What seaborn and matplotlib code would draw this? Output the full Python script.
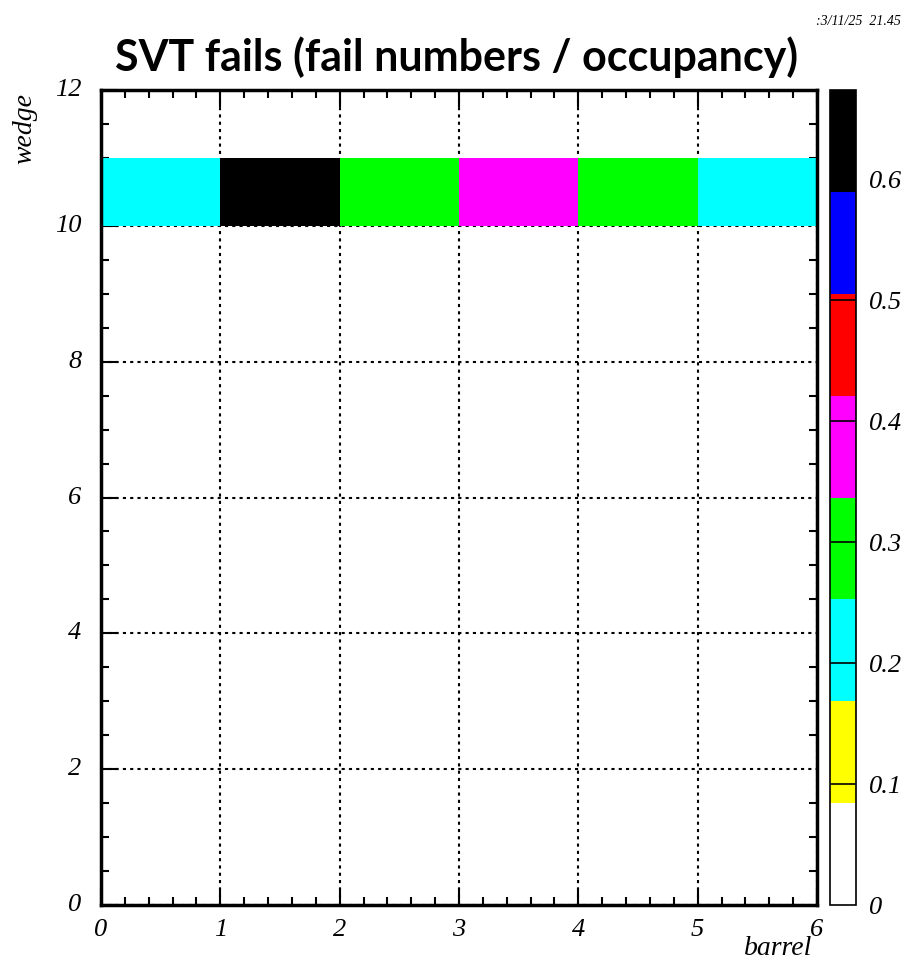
import numpy as np
import pandas as pd
import seaborn as sns
import matplotlib
matplotlib.use('Agg')
from matplotlib import pyplot as plt
from matplotlib.colors import ListedColormap
from matplotlib.ticker import MultipleLocator

sns.set_style('white')
plt.rcParams['text.color'] = 'black'
plt.rcParams['xtick.color'] = 'black'
plt.rcParams['ytick.color'] = 'black'

# histogram content: wedge row 10, barrels 0..5
barrels = [0, 1, 2, 3, 4, 5]
wedges = list(range(12))
row_wedge = 10
row_values = [0.21, 0.674, 0.30, 0.38, 0.30, 0.21]

level_colors = ['white', 'yellow', 'cyan', '#00ff00', 'magenta', 'red', 'blue', 'black']
zmax = max(row_values)

cbar_ticks = [0, 0.1, 0.2, 0.3, 0.4, 0.5, 0.6]
cbar_labels = ['0', '0.1', '0.2', '0.3', '0.4', '0.5', '0.6']
x_ticks = [0, 1, 2, 3, 4, 5, 6]
y_ticks = [0, 2, 4, 6, 8, 10, 12]

grid = np.zeros((len(wedges), len(barrels)))
grid[row_wedge, :] = row_values
df = pd.DataFrame(grid, index=wedges, columns=barrels)

serif = dict(family='Liberation Serif', style='italic', color='black')

fig = plt.figure(figsize=(9.05, 9.63), dpi=100)
ax = fig.add_axes([0.1116, 0.0602, 0.7912, 0.8463])
cax = fig.add_axes([0.9171, 0.0602, 0.0293, 0.8463])

sns.heatmap(df, cmap=ListedColormap(level_colors), vmin=0, vmax=zmax,
            mask=(df == 0), ax=ax, cbar_ax=cax, linewidths=0)

ax.set_ylim(0, 12)
ax.set_xlim(0, 6)
ax.set_axisbelow(True)
ax.xaxis.set_major_locator(MultipleLocator(1))
ax.xaxis.set_minor_locator(MultipleLocator(0.2))
ax.yaxis.set_major_locator(MultipleLocator(2))
ax.yaxis.set_minor_locator(MultipleLocator(0.5))
ax.set_xticks(x_ticks)
ax.set_yticks(y_ticks)
ax.set_xticklabels([str(v) for v in x_ticks], fontsize=19, rotation=0, **serif)
ax.set_yticklabels([str(v) for v in y_ticks], fontsize=19, rotation=0, **serif)
ax.tick_params(which='both', direction='in', top=True, right=True, bottom=True, left=True, color='black')
ax.tick_params(which='major', length=12, width=1.5)
ax.tick_params(which='minor', length=6, width=1.5)
ax.tick_params(axis='x', which='major', pad=10)
ax.tick_params(axis='y', which='major', right=False, pad=14)
ax.grid(True, which='major', color='black', linestyle=(0, (1.5, 2)), linewidth=1.5)
for s in ax.spines.values():
    s.set_visible(True)
    s.set_linewidth(2.5)
    s.set_color('black')

ax.set_xlabel('')
ax.set_ylabel('')
fig.text(0.898, 0.002, 'barrel', fontsize=20, ha='right', va='bottom', **serif)
fig.text(0.014, 0.903, 'wedge', fontsize=20, rotation=90, ha='left', va='top', **serif)

fig.text(0.505, 0.926, 'SVT fails (fail numbers / occupancy)', fontsize=31,
         family='Lato', weight='bold', color='black', ha='center', va='baseline')
fig.text(0.995, 0.978, ':3/11/25  21.45', fontsize=10, ha='right', va='center', **serif)

cb = ax.collections[0].colorbar
cb.outline.set_visible(True)
cb.outline.set_linewidth(1.2)
cb.outline.set_edgecolor('black')
cax.set_yticks(cbar_ticks)
cax.set_yticklabels(cbar_labels, fontsize=19, **serif)
cax.tick_params(axis='y', length=0, pad=9)
# ROOT draws the palette ticks as lines across the whole bar
cax.hlines(cbar_ticks[1:], 0, 1, transform=cax.get_yaxis_transform(), color='black', linewidth=1.2)

fig.savefig('out.png', dpi=100)
